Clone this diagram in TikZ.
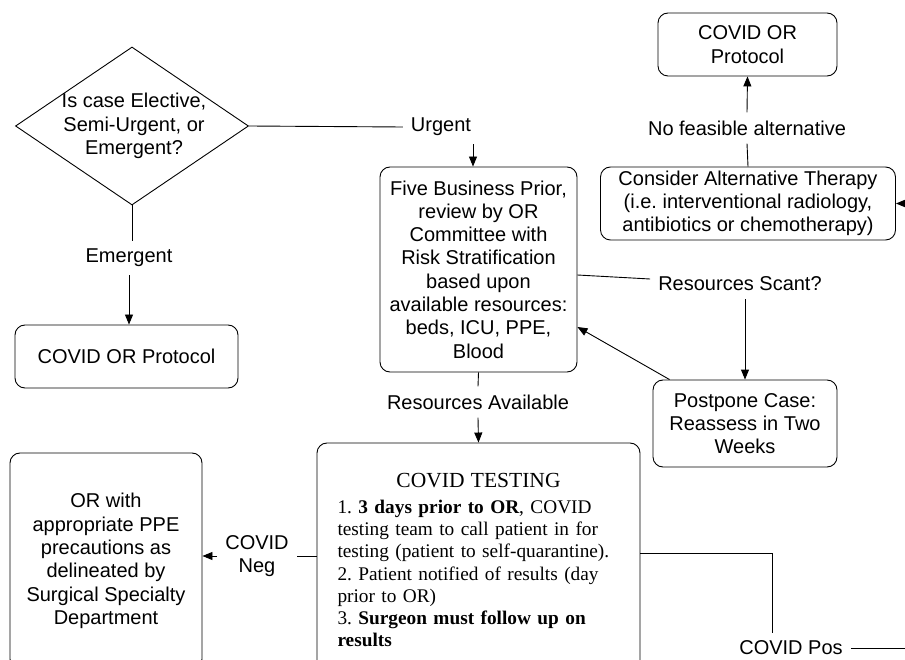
\documentclass[tikz,border=0pt]{standalone}
\usepackage{fontspec}
\setmainfont{Liberation Sans}
\newfontfamily\timesrm{Liberation Serif}
\frenchspacing
\usetikzlibrary{shapes.geometric, arrows.meta, calc}
\tikzset{
  stepbox/.style={draw, line width=0.9pt, rounded corners=10pt, align=center, inner sep=0pt},
  decision/.style={diamond, draw, line width=0.9pt, inner sep=0pt,
    minimum width=233pt, minimum height=158pt},
  lbl/.style={align=center, inner sep=8pt},
  link/.style={line width=0.9pt},
  arr/.style={link, -{Triangle[length=10pt, width=8pt]}}
}

\begin{document}
\begin{tikzpicture}[x=1pt, y=-1pt, font=\fontsize{20}{23.3}\selectfont]
  \clip (0,0) rectangle (905,660);
  \useasboundingbox (0,0) rectangle (905,660);

  % ── Decision and emergent branch ─────────────────────────────────
  \node[decision, label={[align=center, xshift=2pt]center:Is case Elective,\\Semi-Urgent, or\\Emergent?}]
    (dec) at (132,126) {};
  \node[lbl] (urgent) at (441,127) {Urgent};
  \node[lbl] (emerg)  at (129,258) {Emergent};
  \node[stepbox, minimum width=223pt, minimum height=63pt] (prot1) at (126.5,356.5) {COVID OR Protocol};

  \draw[link] (dec.east) -- (urgent.west);
  \draw[link] (dec.south) -- (dec.south |- emerg.north);
  \draw[arr]  (emerg.south) -- (emerg.south |- prot1.north);

  % ── Committee review ─────────────────────────────────────────────
  \node[stepbox, minimum width=197pt, minimum height=205pt] (five) at (478.5,269.5)
    {Five Business Prior,\\review by OR\\Committee with\\Risk Stratification\\based upon\\available resources:\\beds, ICU, PPE,\\Blood};
  \draw[arr] ([xshift=32pt]urgent.south) -- ([xshift=-5.5pt]five.north);

  % ── Alternative therapy (top right) ──────────────────────────────
  \node[stepbox, minimum width=179pt, minimum height=63pt] (prot2) at (747.5,44.5) {COVID OR\\Protocol};
  \node[lbl] (nofeas) at (747,128) {No feasible alternative};
  \node[stepbox, minimum width=295pt, minimum height=73pt] (consider) at (748,203.5)
    {Consider Alternative Therapy\\(i.e. interventional radiology,\\antibiotics or chemotherapy)};
  \coordinate (offR) at (905,203.5);

  \draw[link] (consider.north) -- (nofeas.south);
  \draw[arr]  (nofeas.north) -- (prot2.south);
  \draw[arr]  (offR) -- (consider.east);

  % ── Scant resources loop ─────────────────────────────────────────
  \node[lbl] (scant) at (740,284) {Resources Scant?};
  \node[stepbox, minimum width=184pt, minimum height=87pt] (postp) at (745,423.5)
    {Postpone Case:\\Reassess in Two\\Weeks};

  \draw[link] ([yshift=-5.5pt]five.east) -- ([yshift=5pt]scant.west);
  \draw[arr]  (scant.south -| postp.north) -- (postp.north);
  \draw[arr]  ([xshift=17pt]postp.north west) -- ([yshift=-57.5pt]five.east);

  % ── Testing ──────────────────────────────────────────────────────
  \node[lbl] (avail) at (478,402) {Resources Available};
  \node[stepbox, minimum width=323pt, minimum height=234pt, text width=282pt, align=left,
        font=\timesrm\fontsize{19.3}{22.3}\selectfont] (testing) at (478.5,560)
    {\makebox[\linewidth]{\fontsize{21.5}{26}\selectfont COVID TESTING}\\[3.7pt]
     1. \textbf{3 days prior to OR}, COVID\\
     testing team to call patient in for\\
     testing (patient to self-quarantine).\\
     2. Patient notified of results (day\\
     prior to OR)\\
     3. \textbf{Surgeon must follow up on}\\
     \textbf{results}};

  \draw[link] (five.south) -- (avail.north);
  \draw[arr]  (avail.south) -- (testing.north);

  % ── Results ──────────────────────────────────────────────────────
  \node[lbl] (neg) at (257,556) {COVID\\Neg};
  \node[stepbox, minimum width=192pt, minimum height=216pt] (orbox) at (106,561)
    {OR with\\appropriate PPE\\precautions as\\delineated by\\Surgical Specialty\\Department};
  \node[lbl] (pos) at (791,648) {COVID Pos};
  \coordinate (offP) at (905,648);

  \draw[link] (testing.west |- neg.east) -- (neg.east);
  \draw[arr]  (neg.west) -- (orbox.east |- neg.west);
  \draw[link] ([yshift=7pt]testing.east) -| ([xshift=-19pt]pos.north);
  \draw[link] (pos.east) -- (offP);
\end{tikzpicture}
\end{document}
